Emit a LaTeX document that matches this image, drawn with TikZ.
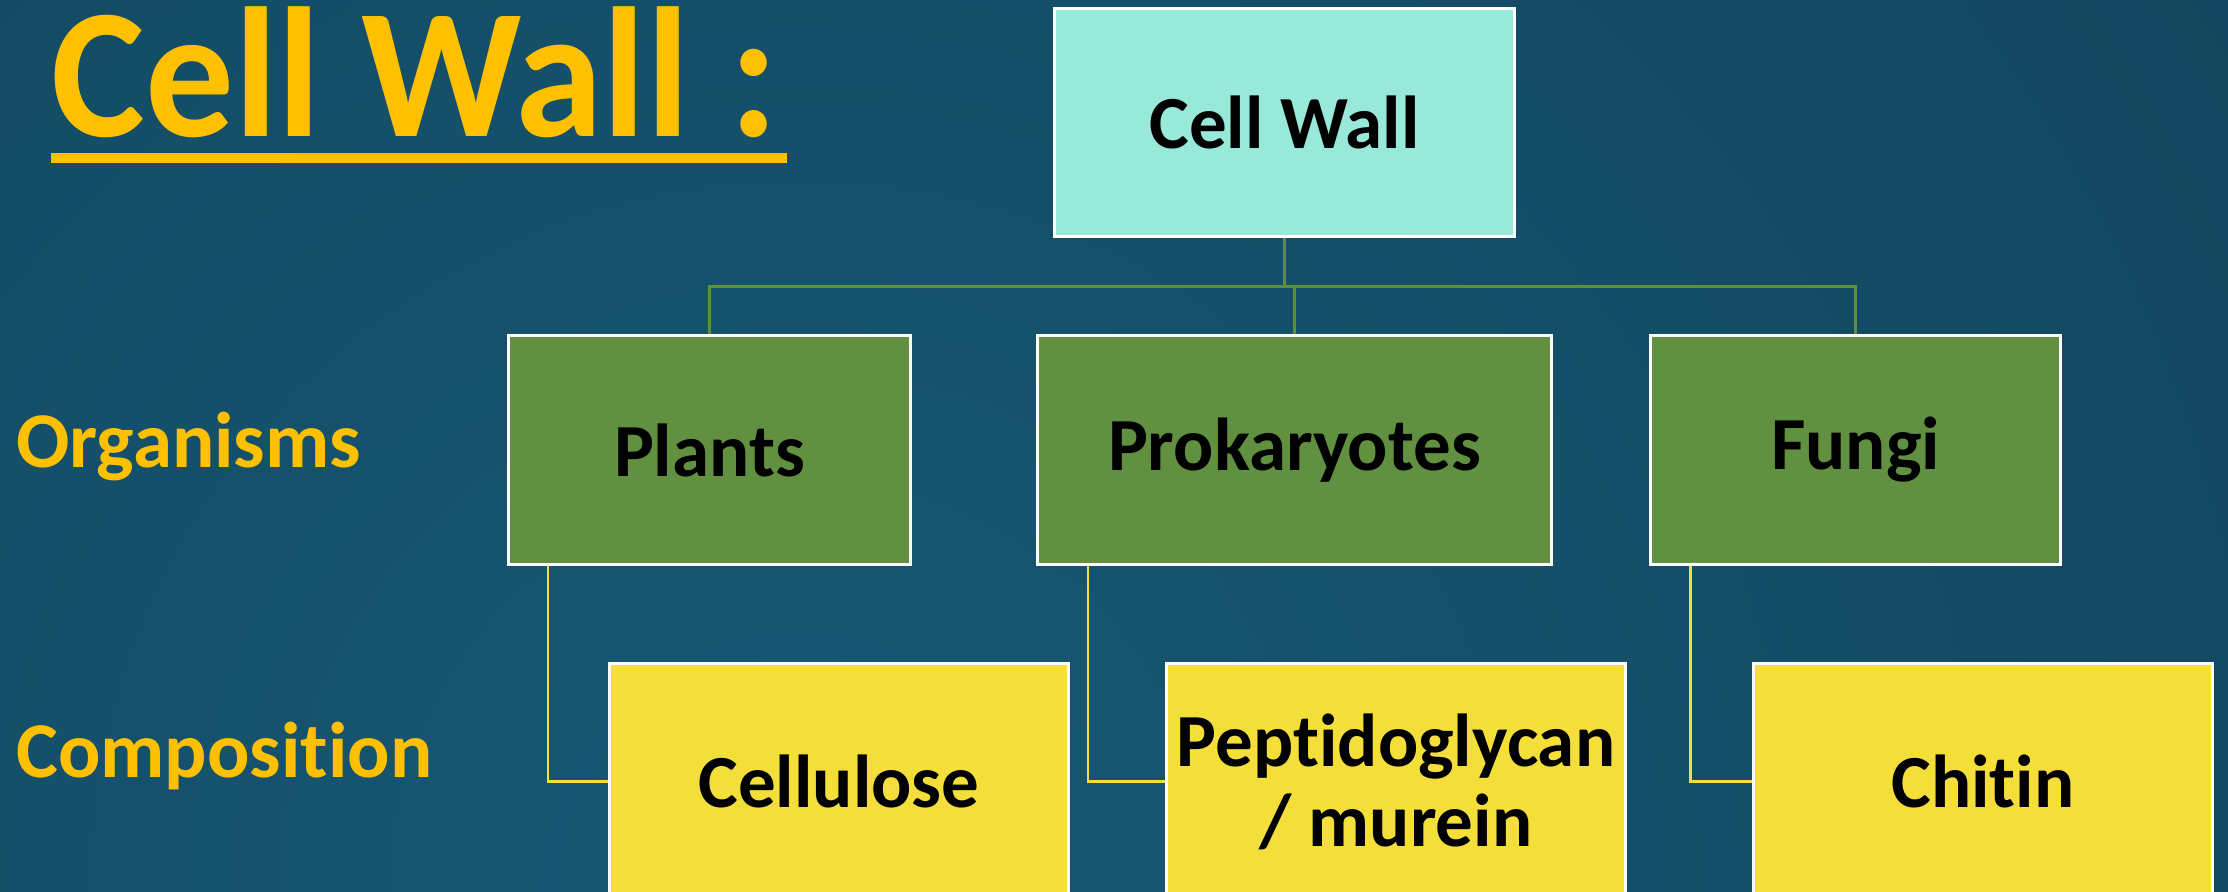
\documentclass[tikz,border=0pt]{standalone}
\usepackage{fontspec}
\setmainfont{Carlito}[Ligatures=CommonOff]
\newfontfamily\titlefont{Carlito}[Ligatures=CommonOff, FakeStretch=0.957]
\usepackage{xcolor}
\usetikzlibrary{positioning}
\definecolor{bginner}{HTML}{175874}
\definecolor{bgouter}{HTML}{0E3447}
\definecolor{wallaqua}{HTML}{98E9D9}
\definecolor{orggreen}{HTML}{619040}
\definecolor{compyellow}{HTML}{F4DF3A}
\definecolor{titlegold}{HTML}{FFC000}
\definecolor{linkgreen}{HTML}{5E8F3E}
\tikzset{
  cellbox/.style={draw=white, line width=1.5pt, inner sep=0pt, align=center, text=black, font=\fontsize{37.5pt}{40pt}\selectfont\bfseries},
  wallbox/.style={cellbox, fill=wallaqua, minimum width=230pt, minimum height=114pt},
  orgbox/.style={cellbox, fill=orggreen, minimum height=114.5pt},
  compbox/.style={cellbox, fill=compyellow, minimum width=229.5pt, minimum height=118pt, anchor=north west},
  rowlabel/.style={inner sep=0pt, anchor=base west, text=titlegold, font=\fontsize{39.5pt}{42pt}\selectfont\bfseries},
  linkline/.style={linkgreen, line width=1.5pt},
  stemline/.style={compyellow, line width=1.1pt}
}

\begin{document}
\begin{tikzpicture}[x=0.5pt, y=0.5pt]
  \useasboundingbox (0,0) rectangle (2228,892);
  \clip (0,0) rectangle (2228,892);
  % background
  \shade[inner color=bginner, outer color=bgouter] (800,0) circle (3400);

  % title and row labels
  \node[inner sep=0pt, anchor=base west, text=titlegold, font=\titlefont\fontsize{92.5pt}{100pt}\selectfont\bfseries] (title) at (51,755) {Cell Wall :};
  \draw[titlegold, line width=5pt] ([yshift=-10.5pt]title.base west) -- ++(736,0);
  \node[rowlabel] (orglabel) at (16,424) {Organisms};
  \node[rowlabel] (complabel) at (16,114) {Composition};

  % hierarchy
  \node[wallbox] (wall) at (1284.5,769.5) {Cell Wall};
  \node[orgbox, minimum width=201pt] (plants) at (709.5,442) {Plants};
  \node[orgbox, minimum width=257pt, right=62pt of plants] (prok) {Prokaryotes};
  \node[orgbox, minimum width=205pt, right=48pt of prok] (fungi) {Fungi};
  \node[compbox, below right=48pt and 50.5pt of plants.south west] (cellulose) {Cellulose};
  \node[compbox, below right=48pt and 64.5pt of prok.south west] (pepti) {Peptidoglycan\\/ murein};
  \node[compbox, below right=48pt and 51.5pt of fungi.south west] (chitin) {Chitin};

  \draw[linkline] (wall.south) -- ++(0,-49) coordinate (bus);
  \draw[linkline] (bus) -| (plants.north);
  \draw[linkline] (bus) -| (prok.north);
  \draw[linkline] (bus) -| (fungi.north);

  \draw[stemline] ([xshift=20.5pt]plants.south west) |- (cellulose.west);
  \draw[stemline] ([xshift=26pt]prok.south west) |- (pepti.west);
  \draw[stemline] ([xshift=20.75pt]fungi.south west) |- (chitin.west);
\end{tikzpicture}
\end{document}
